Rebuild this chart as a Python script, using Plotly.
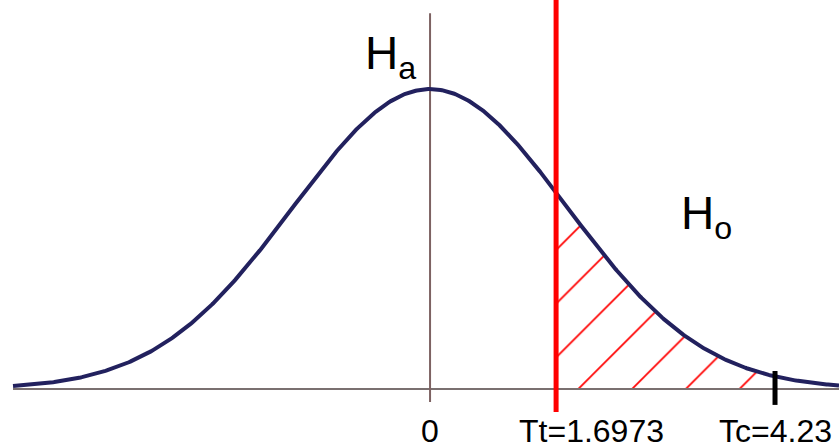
import numpy as np
import plotly.graph_objects as go

# ---- data (schematic positions in units of the curve's standard deviation) ----
label_text = ["0", "Tt=1.6973", "Tc=4.23"]
label_pos = [0.0, 0.92, 2.518]          # where each value sits on the schematic axis
label_xshift = [0, 35, 0]               # Tt label is printed right of its line
t_table = 0.92                           # Tt (critical value) position
t_calc = 2.518                           # Tc (computed statistic) position
hyp_text = ["H<sub>a</sub>", "H<sub>o</sub>"]
hyp_x = [-0.29, 2.02]
hyp_y = [1.11, 0.575]

x_min, x_max = -3.139, 2.985
y_min, y_max = -0.18, 1.297
x_start = -3.044

xs = np.linspace(x_start, x_max, 600)
curve = np.exp(-xs ** 2 / 2)            # bell curve, peak scaled to 1

fig = go.Figure()

# hatched rejection region between Tt and Tc
xh = xs[(xs >= t_table) & (xs <= t_calc)]
fig.add_trace(go.Scatter(
    x=xh, y=np.exp(-xh ** 2 / 2), mode="lines", line=dict(width=0),
    fill="tozeroy", fillcolor="rgba(255,255,255,0)",
    fillpattern=dict(shape="/", fgcolor="#ff0000", bgcolor="rgba(255,255,255,0)",
                     fgopacity=1, size=38, solidity=0.045),
    hoverinfo="skip", showlegend=False))

# horizontal axis line
fig.add_trace(go.Scatter(x=[x_start, x_max], y=[0, 0], mode="lines",
                         line=dict(color="#7a7070", width=2), showlegend=False))
# vertical axis line at 0
fig.add_trace(go.Scatter(x=[0, 0], y=[-0.043, 1.253], mode="lines",
                         line=dict(color="#7d6262", width=2), showlegend=False))
# bell curve
fig.add_trace(go.Scatter(x=xs, y=curve, mode="lines",
                         line=dict(color="#22215e", width=4), showlegend=False))
# red critical line
fig.add_trace(go.Scatter(x=[t_table, t_table], y=[-0.077, y_max], mode="lines",
                         line=dict(color="#ff0000", width=5), showlegend=False))
# black tick for Tc
fig.add_trace(go.Scatter(x=[t_calc, t_calc], y=[-0.053, 0.06], mode="lines",
                         line=dict(color="#000000", width=5), showlegend=False))

for txt, xp, sh in zip(label_text, label_pos, label_xshift):
    fig.add_annotation(x=xp, y=-0.14, xref="x", yref="y", text=txt, showarrow=False,
                       xshift=sh, xanchor="center", yanchor="middle",
                       font=dict(family="Liberation Sans, Arial", size=32, color="#000"))

for txt, xp, yp in zip(hyp_text, hyp_x, hyp_y):
    fig.add_annotation(x=xp, y=yp, xref="x", yref="y", text=txt, showarrow=False,
                       xanchor="center", yanchor="middle",
                       font=dict(family="Liberation Sans, Arial", size=46, color="#000"))

fig.update_layout(
    width=839, height=443, margin=dict(l=0, r=0, t=0, b=0),
    paper_bgcolor="white", plot_bgcolor="white", showlegend=False,
    xaxis=dict(range=[x_min, x_max], visible=False, fixedrange=True),
    yaxis=dict(range=[y_min, y_max], visible=False, fixedrange=True),
)

fig.write_html("out.html", config={"displayModeBar": False},
               post_script="document.body.style.margin='0';")
